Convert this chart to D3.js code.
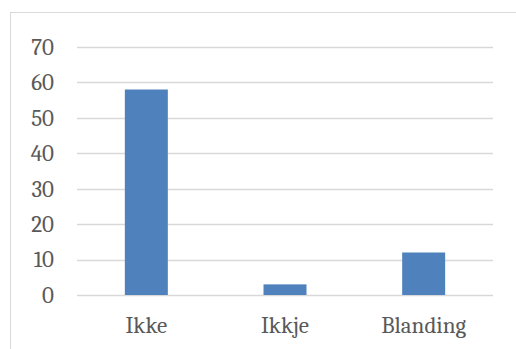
<!DOCTYPE html>
<html>
<head>
<meta charset="utf-8">
<script src="https://cdn.jsdelivr.net/npm/d3@7"></script>
<style>
  body { margin: 0; background: #fff; }
</style>
</head>
<body>
<div id="chart"></div>
<script>
// chart data
const categories = ["Ikke", "Ikkje", "Blanding"];
const values = [58, 3, 12];
const yTicks = [0, 10, 20, 30, 40, 50, 60, 70];

const W = 516, H = 349;
const margin = { top: 47, right: 23, bottom: 54, left: 77 };
const FONT = "Cambria, 'Liberation Serif', 'DejaVu Serif', Tinos, 'Noto Serif', FreeSerif, Georgia, Times, serif";

const svg = d3.select("#chart").append("svg")
  .attr("width", W)
  .attr("height", H)
  .style("display", "block");

// chart area border
svg.append("rect")
  .attr("x", 10.5)
  .attr("y", 12.5)
  .attr("width", 520)
  .attr("height", 350)
  .attr("fill", "none")
  .attr("stroke", "#d9d9d9");

const x = d3.scaleBand()
  .domain(categories)
  .range([margin.left, W - margin.right])
  .paddingInner(0.69)
  .paddingOuter(0.345);

const y = d3.scaleLinear()
  .domain([0, 70])
  .range([H - margin.bottom, margin.top]);

// gridlines
svg.append("g")
  .selectAll("line")
  .data(yTicks)
  .enter().append("line")
  .attr("x1", margin.left)
  .attr("x2", W - margin.right)
  .attr("y1", d => Math.round(y(d)) + 0.5)
  .attr("y2", d => Math.round(y(d)) + 0.5)
  .attr("stroke", "#d9d9d9")
  .attr("stroke-width", 1.5);

// y labels
svg.append("g")
  .selectAll("text")
  .data(yTicks)
  .enter().append("text")
  .attr("x", 54)
  .attr("y", d => y(d))
  .attr("dy", "0.34em")
  .attr("text-anchor", "end")
  .style("font-family", FONT)
  .style("font-size", "23px")
  .attr("fill", "#595959")
  .text(d => d);

// bars
svg.append("g")
  .selectAll("rect")
  .data(values)
  .enter().append("rect")
  .attr("x", (d, i) => x(categories[i]))
  .attr("width", x.bandwidth())
  .attr("y", d => y(d))
  .attr("height", d => y(0) - y(d))
  .attr("fill", "#4f81bd");

// x labels
svg.append("g")
  .selectAll("text")
  .data(categories)
  .enter().append("text")
  .attr("x", d => x(d) + x.bandwidth() / 2)
  .attr("y", 333)
  .attr("text-anchor", "middle")
  .style("font-family", FONT)
  .style("font-size", "23px")
  .attr("fill", "#595959")
  .text(d => d);
</script>
</body>
</html>
